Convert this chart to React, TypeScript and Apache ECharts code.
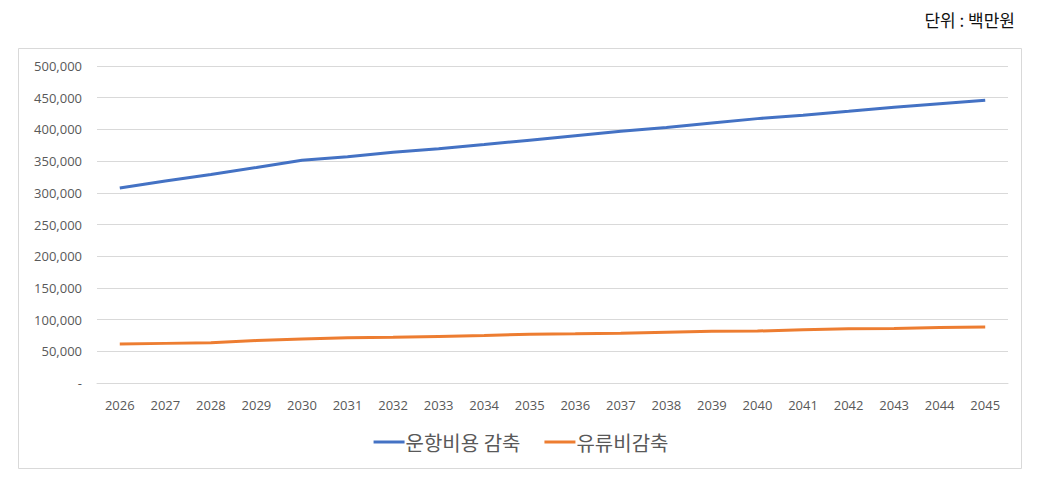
import React, { useEffect, useRef } from "react";
import * as echarts from "echarts";

const years = ["2026","2027","2028","2029","2030","2031","2032","2033","2034","2035","2036","2037","2038","2039","2040","2041","2042","2043","2044","2045"];
const operatingCost = [307500, 318500, 329000, 340000, 351500, 357000, 364000, 369500, 376000, 383000, 390000, 397000, 403000, 410000, 417000, 422500, 428500, 435000, 440500, 446000];
const fuelCost = [61500, 62500, 63500, 67000, 69500, 71500, 72000, 73500, 75000, 77000, 77500, 78500, 80000, 81500, 82000, 84000, 85500, 86000, 87500, 88500];
const seriesNames = ["운항비용 감축", "유류비감축"];
const unitLabel = "단위 : 백만원";

export default function App() {
  const ref = useRef<HTMLDivElement>(null);
  useEffect(() => {
    const chart = echarts.init(ref.current!, undefined, { renderer: "svg" });
    const font = "'Noto Sans CJK KR', 'Noto Sans', sans-serif";
    chart.setOption({
      animation: false,
      backgroundColor: "#ffffff",
      graphic: [
        {
          type: "rect",
          shape: { x: 18.5, y: 48.5, width: 1003, height: 420 },
          style: { fill: "none", stroke: "#d9d9d9", lineWidth: 1 },
          silent: true,
        },
        {
          type: "text",
          right: 27,
          top: 11,
          style: { text: unitLabel, fontSize: 17, fontWeight: "normal", fill: "#111111", fontFamily: font },
        },
      ],
      grid: { left: 97, right: 34, top: 66, bottom: 106 },
      legend: {
        data: seriesNames,
        top: 427,
        left: "center",
        icon: "rect",
        itemWidth: 31,
        itemHeight: 3,
        itemGap: 24,
        textStyle: { fontSize: 20, color: "#595959", fontFamily: font, padding: [0, 0, 0, -4] },
      },
      xAxis: {
        type: "category",
        data: years,
        boundaryGap: true,
        axisLine: { show: true, lineStyle: { color: "#d9d9d9" } },
        axisTick: { show: false },
        axisLabel: { color: "#595959", fontSize: 13, margin: 15, fontFamily: "'Open Sans', 'Noto Sans', sans-serif" },
      },
      yAxis: {
        type: "value",
        min: 0,
        max: 500000,
        interval: 50000,
        axisLine: { show: false },
        axisTick: { show: false },
        splitLine: { lineStyle: { color: "#d9d9d9" } },
        axisLabel: {
          color: "#595959",
          fontSize: 13,
          margin: 15,
          fontFamily: "'Open Sans', 'Noto Sans', sans-serif",
          formatter: (v: number) => (v === 0 ? "-" : v.toLocaleString("en-US")),
        },
      },
      series: [
        {
          name: seriesNames[0],
          type: "line",
          data: operatingCost,
          showSymbol: false,
          symbol: "none",
          lineStyle: { color: "#4472C4", width: 3 },
          itemStyle: { color: "#4472C4" },
        },
        {
          name: seriesNames[1],
          type: "line",
          data: fuelCost,
          showSymbol: false,
          symbol: "none",
          lineStyle: { color: "#ED7D31", width: 3 },
          itemStyle: { color: "#ED7D31" },
        },
      ],
    });
    return () => chart.dispose();
  }, []);
  return (
    <div
      ref={ref}
      style={{ position: "fixed", left: 0, top: 0, width: 1042, height: 489, background: "#fff" }}
    />
  );
}
